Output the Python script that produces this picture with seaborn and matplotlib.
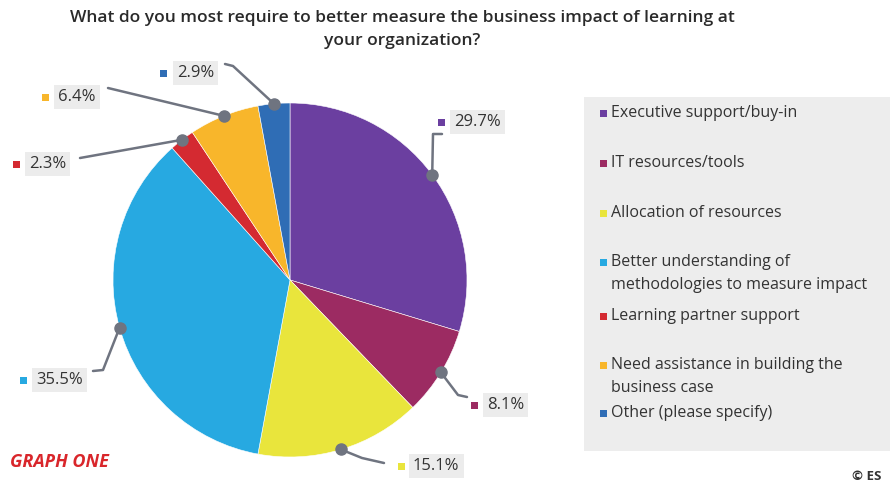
import matplotlib
matplotlib.use("Agg")
import matplotlib.pyplot as plt
import seaborn as sns
import numpy as np
from matplotlib.patches import Rectangle

categories = [
    "Executive support/buy-in",
    "IT resources/tools",
    "Allocation of resources",
    "Better understanding of\nmethodologies to measure impact",
    "Learning partner support",
    "Need assistance in building the\nbusiness case",
    "Other (please specify)",
]
values = [29.7, 8.1, 15.1, 35.5, 2.3, 6.4, 2.9]
value_labels = ["29.7%", "8.1%", "15.1%", "35.5%", "2.3%", "6.4%", "2.9%"]
colors = ["#6b3fa0", "#9c2b62", "#e9e53c", "#27a9e1", "#d42a31", "#f8b62b", "#2f6db5"]

title = "What do you most require to better measure the business impact of learning at\nyour organization?"

sns.set_theme(style="white")
plt.rcParams['font.family'] = ['Open Sans', 'DejaVu Sans']

W, H = 890, 484
fig = plt.figure(figsize=(W / 100, H / 100), dpi=100)
ax = fig.add_axes([0, 0, 1, 1])

def Y(y):
    return H - y

cx, cy, R = 290, 280, 177
wedges, _ = ax.pie(values, colors=colors, startangle=90, counterclock=False,
                   center=(cx, Y(cy)), radius=R, frame=True,
                   wedgeprops=dict(linewidth=0.4, edgecolor="white"))
ax.set_xlim(0, W)
ax.set_ylim(0, H)
ax.set_aspect("equal")
ax.axis("off")

# label layout: elbow points (pixel coords), square position, text x
layout = [
    dict(path=[(433, 134), (442, 134)], sq=(441, 122), tx=454),
    dict(path=[(458, 395), (467, 397)], sq=(474, 405), tx=487),
    dict(path=[(362, 458), (384, 463)], sq=(401, 466), tx=413),
    dict(path=[(103, 370), (93, 371)], sq=(23, 380), tx=36),
    dict(path=[(80, 158)], sq=(16, 164), tx=29),
    dict(path=[(108, 88)], sq=(45, 97), tx=58),
    dict(path=[(233, 66), (225, 64)], sq=(163, 73), tx=177),
]

for w, col, lab, lay in zip(wedges, colors, value_labels, layout):
    mid = np.deg2rad((w.theta1 + w.theta2) / 2)
    dx = cx + R * np.cos(mid)
    dy = Y(cy) + R * np.sin(mid)
    xs = [dx] + [p[0] for p in lay["path"]]
    ys = [dy] + [Y(p[1]) for p in lay["path"]]
    ax.plot(xs, ys, color="#6f7480", lw=1.8, solid_capstyle="round", zorder=5)
    ax.plot(dx, dy, "o", ms=8, color="#6f7480", zorder=6)
    sx, sy = lay["sq"]
    ax.add_patch(Rectangle((sx - 3.5, Y(sy) - 3.5), 7, 7, facecolor=col,
                           edgecolor="none", zorder=6))
    ax.text(lay["tx"], Y(sy), lab, fontsize=12, color="#333333",
            va="center", ha="left", zorder=6,
            bbox=dict(boxstyle="square,pad=0.25", facecolor="#ececec",
                      edgecolor="none"))

# legend panel
ax.add_patch(Rectangle((584, Y(451)), 310, 354, facecolor="#ededed",
                       edgecolor="none", zorder=1))
leg_y = [113, 163, 213, 262, 316, 365, 413]
for cat, col, ly in zip(categories, colors, leg_y):
    ax.add_patch(Rectangle((600, Y(ly) - 3.5), 7, 7, facecolor=col,
                           edgecolor="none", zorder=2))
    ax.text(611, Y(ly) + 8, cat, fontsize=11.5, color="#333333", va="top",
            ha="left", linespacing=1.55, zorder=2)

ax.text(402, Y(10), title, fontsize=12.5, color="#2a2a2a", ha="center",
        va="top", linespacing=1.6, fontweight="semibold")

ax.text(10, Y(462), "GRAPH ONE", fontsize=13, color="#d9262b",
        fontweight="bold", fontstyle="italic", ha="left", va="center")
ax.text(852, Y(477), "© ES", fontsize=9.5, color="#333333", ha="left",
        va="center", fontweight="bold")

fig.savefig("out.png", dpi=100)
